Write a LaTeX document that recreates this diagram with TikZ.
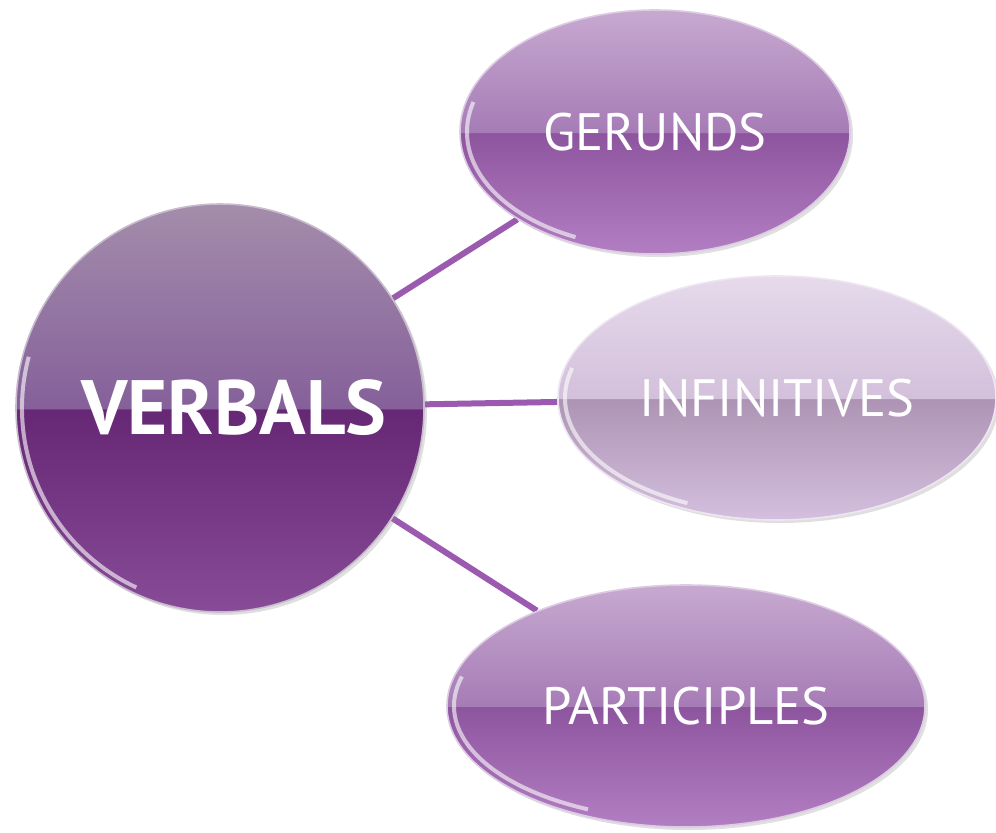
\documentclass[tikz,border=0pt]{standalone}
\usepackage{fontspec}
\setmainfont{PT Sans}
\usepackage{xcolor}
\usepackage{tikz}
\usetikzlibrary{shapes.geometric,shadows,backgrounds}

\definecolor{linkpurple}{HTML}{9B5AB0}
\definecolor{vbTop}{HTML}{A48DAB}
\definecolor{vbHigh}{HTML}{85609A}
\definecolor{vbLow}{HTML}{662775}
\definecolor{vbBot}{HTML}{874B97}
\definecolor{grTop}{HTML}{C7A9D0}
\definecolor{grHigh}{HTML}{A67CB6}
\definecolor{grLow}{HTML}{8E559F}
\definecolor{grBot}{HTML}{B27EC2}
\definecolor{inTop}{HTML}{E6DAEB}
\definecolor{inHigh}{HTML}{D3C0DB}
\definecolor{inLow}{HTML}{AD94B4}
\definecolor{inBot}{HTML}{D4BFDE}

% two-tone glass fill: #2 top, #3 above the middle, #4 below it, #5 bottom
\newcommand\glassshade[5]{%
  \pgfdeclareverticalshading{#1}{100bp}{color(0bp)=(#5); color(25bp)=(#5);
    color(49.8bp)=(#4); color(50bp)=(#3); color(75bp)=(#2); color(100bp)=(#2)}}
\glassshade{verbalglass}{vbTop}{vbHigh}{vbLow}{vbBot}
\glassshade{gerundglass}{grTop}{grHigh}{grLow}{grBot}
\glassshade{infinitiveglass}{inTop}{inHigh}{inLow}{inBot}

\begin{document}
\begin{tikzpicture}[x=0.5pt,y=-0.5pt,
    glass/.style={inner sep=0pt, text=white, draw=#1, line width=0.8pt,
      drop shadow={opacity=0.25,shadow xshift=1.5pt,shadow yshift=-1.5pt}},
    rim/.style 2 args={path picture={
      \draw[white,opacity=0.6,line width=2pt]
        ([shift={(165:#1pt and #2pt)}]path picture bounding box.center)
        arc[start angle=165,end angle=245,x radius=#1pt,y radius=#2pt];}},
    link/.style={draw=linkpurple,line width=3pt}]
  \useasboundingbox (0,0) rectangle (996,832);

  \node[circle,glass=vbTop!60!white,shading=verbalglass,minimum size=204pt,rim={99}{99},
    font=\bfseries\fontsize{38.5}{40}\selectfont] (verbals) at (220,408)
    {\hspace*{14pt}\raisebox{-2.5pt}{VERBALS}};
  \node[ellipse,glass=grTop!60!white,shading=gerundglass,minimum width=195pt,minimum height=122pt,
    rim={94}{58},font=\fontsize{26.3}{28}\selectfont] (gerunds) at (655,132) {GERUNDS};
  \node[ellipse,glass=inTop!70!white,shading=infinitiveglass,minimum width=219pt,minimum height=122pt,
    rim={106}{58},font=\fontsize{26.3}{28}\selectfont] (infinitives) at (777,398) {INFINITIVES};
  \node[ellipse,glass=grTop!60!white,shading=gerundglass,minimum width=239pt,minimum height=121pt,
    rim={116}{57},font=\fontsize{26.3}{28}\selectfont] (participles) at (686,706) {PARTICIPLES};

  \begin{scope}[on background layer]
    \fill[white] (0,0) rectangle (996,832);
    \draw[link] (verbals) -- (gerunds);
    \draw[link] (verbals) -- (infinitives);
    \draw[link] (verbals) -- (participles);
  \end{scope}
\end{tikzpicture}
\end{document}
